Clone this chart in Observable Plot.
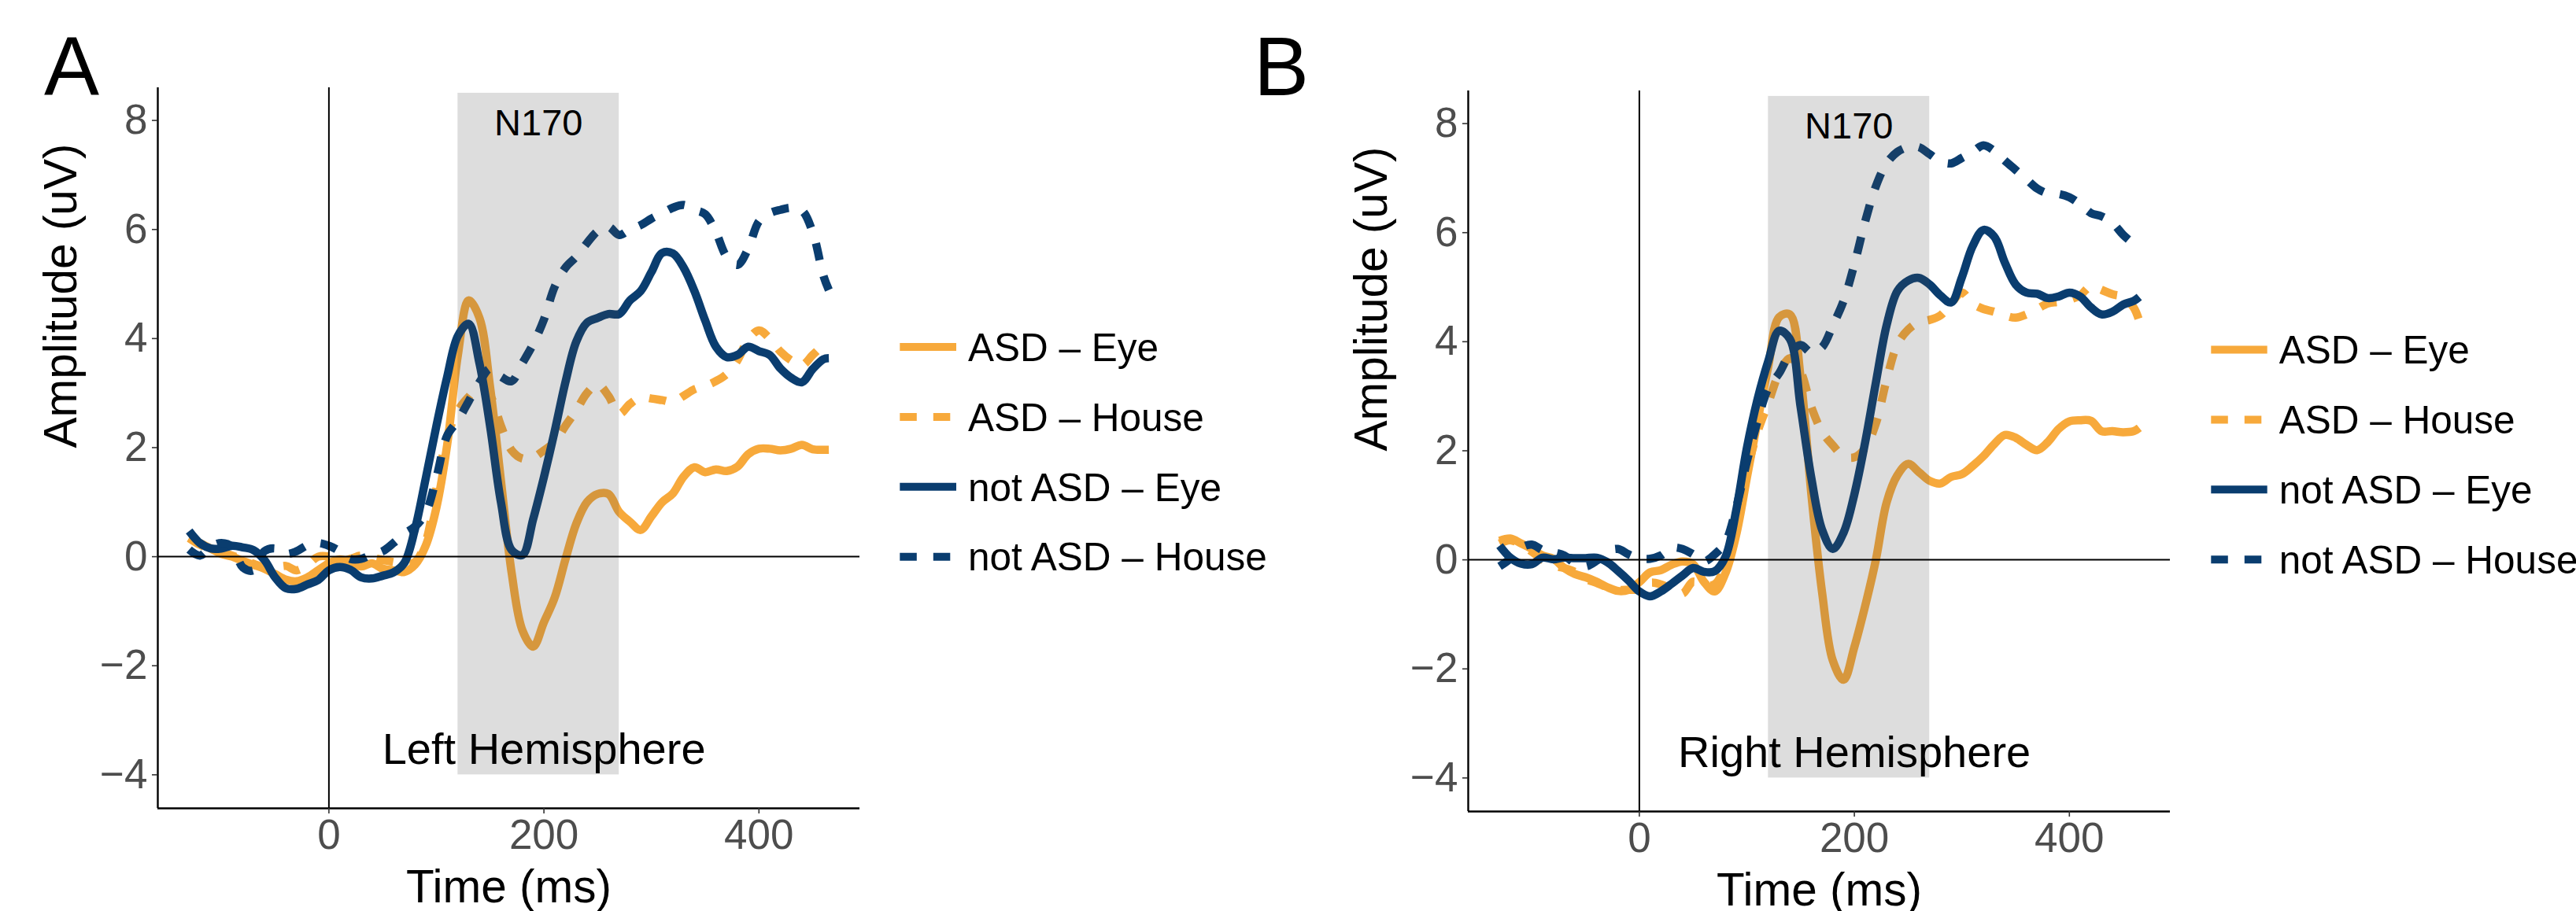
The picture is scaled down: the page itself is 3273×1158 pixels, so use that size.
<!DOCTYPE html>
<html>
<head>
<meta charset="utf-8">
<script src="https://cdn.jsdelivr.net/npm/d3@7"></script>
<script src="https://cdn.jsdelivr.net/npm/@observablehq/plot@0.6"></script>
<style>
html, body { margin: 0; padding: 0; background: #fff; }
#root { position: relative; width: 3273px; height: 1158px; overflow: hidden; background: #fff;
  font-family: 'Liberation Sans', Arial, Helvetica, sans-serif; }
.panel { position: absolute; width: 1100px; height: 1158px; }
</style>
</head>
<body>
<div id="root"></div>
<script>
// ---------------- data ----------------
const times = [-130, -120, -110, -100, -90, -80, -70, -60, -50, -40,
  -30, -20, -10, 0, 10, 20, 30, 40, 50, 60,
  70, 80, 90, 100, 110, 120, 130, 140, 150, 160,
  170, 180, 190, 200, 210, 220, 230, 240, 250, 260,
  270, 280, 290, 300, 310, 320, 330, 340, 350, 360,
  370, 380, 390, 400, 410, 420, 430, 440, 450, 460,
  465];

const seriesNames = ["ASD – Eye", "ASD – House", "not ASD – Eye", "not ASD – House"];

// Left hemisphere
const leftASDEye = [0.35, 0.25, 0.15, 0.05, 0.0, -0.08, -0.15, -0.22, -0.32, -0.42,
  -0.45, -0.38, -0.25, -0.12, -0.05, -0.1, -0.18, -0.12, -0.22, -0.25,
  -0.28, -0.15, 0.2, 0.9, 2.05, 3.7, 4.7, 4.38, 3.1, 1.4,
  -0.3, -1.35, -1.65, -1.2, -0.75, -0.05, 0.6, 1.0, 1.15, 1.15,
  0.82, 0.64, 0.49, 0.74, 1.0, 1.16, 1.47, 1.64, 1.55, 1.6,
  1.57, 1.65, 1.88, 1.98, 1.98, 1.95, 1.98, 2.05, 1.97, 1.96,
  1.96];
const leftASDHouse = [0.34, 0.22, 0.14, 0.08, 0.02, -0.05, -0.13, -0.2, -0.2, -0.17,
  -0.25, -0.15, 0.0, 0.0, -0.08, -0.04, 0.02, -0.02, -0.06, -0.1,
  -0.13, -0.1, 0.27, 1.25, 2.2, 2.68, 2.93, 3.12, 2.95, 2.4,
  1.95, 1.8, 1.82, 1.95, 2.1, 2.4, 2.68, 3.0, 3.16, 2.95,
  2.62, 2.8, 2.92, 2.9, 2.87, 2.84, 2.95, 3.07, 3.13, 3.22,
  3.35, 3.6, 3.98, 4.15, 4.0, 3.76, 3.6, 3.51, 3.7, 3.88,
  3.94];
const leftNotASDEye = [0.47, 0.25, 0.15, 0.15, 0.2, 0.17, 0.12, -0.06, -0.38, -0.58,
  -0.59, -0.51, -0.43, -0.25, -0.19, -0.24, -0.38, -0.4, -0.35, -0.29,
  -0.12, 0.5, 1.43, 2.4, 3.3, 4.05, 4.27, 3.55, 2.38, 1.0,
  0.12, 0.03, 0.69, 1.46, 2.3, 3.2, 3.94, 4.29, 4.38, 4.45,
  4.45, 4.7, 4.87, 5.22, 5.57, 5.56, 5.3, 4.87, 4.33, 3.85,
  3.66, 3.7, 3.85, 3.77, 3.7, 3.45, 3.28, 3.2, 3.44, 3.62,
  3.64];
const leftNotASDHouse = [0.13, 0.02, 0.18, 0.25, 0.18, -0.2, -0.25, 0.1, 0.15, 0.05,
  0.1, 0.21, 0.25, 0.2, 0.1, -0.04, -0.04, 0.04, 0.1, 0.25,
  0.42, 0.55, 0.8, 1.45, 2.22, 2.5, 2.85, 3.2, 3.45, 3.3,
  3.22, 3.55, 3.9, 4.35, 4.95, 5.3, 5.5, 5.75, 5.97, 6.05,
  5.9, 6.0, 6.08, 6.2, 6.3, 6.4, 6.45, 6.36, 6.28, 5.95,
  5.5, 5.35, 5.65, 6.15, 6.3, 6.36, 6.4, 6.35, 5.95, 5.15,
  4.89];

// Right hemisphere
const rightASDEye = [0.35, 0.39, 0.3, 0.2, 0.08, 0.02, -0.15, -0.26, -0.32, -0.4,
  -0.5, -0.57, -0.55, -0.41, -0.23, -0.19, -0.09, -0.03, -0.08, -0.4,
  -0.58, -0.25, 0.45, 1.5, 2.55, 3.55, 4.45, 4.5, 3.35, 1.2,
  -0.6, -1.85, -2.2, -1.6, -0.85, 0.0, 1.05, 1.55, 1.76, 1.61,
  1.45, 1.4, 1.52, 1.57, 1.72, 1.9, 2.12, 2.29, 2.24, 2.11,
  2.01, 2.16, 2.4, 2.54, 2.56, 2.55, 2.36, 2.36, 2.34, 2.36,
  2.42];
const rightASDHouse = [0.3, 0.36, 0.28, 0.15, 0.0, -0.11, -0.15, -0.22, -0.35, -0.42,
  -0.5, -0.55, -0.55, -0.54, -0.42, -0.45, -0.54, -0.62, -0.4, -0.46,
  -0.45, -0.1, 0.65, 1.62, 2.35, 2.88, 3.42, 3.7, 3.45, 2.8,
  2.35, 2.1, 1.9, 1.88, 2.05, 2.5, 3.3, 3.95, 4.22, 4.36,
  4.4, 4.48, 4.7, 4.9, 4.7, 4.6, 4.55, 4.48, 4.44, 4.5,
  4.6, 4.7, 4.73, 4.77, 4.85, 5.02, 4.95, 4.87, 4.82, 4.62,
  4.38];
const rightNotASDEye = [0.26, 0.04, -0.07, -0.08, 0.04, 0.01, 0.04, 0.03, 0.03, 0.04,
  -0.04, -0.2, -0.38, -0.58, -0.67, -0.58, -0.44, -0.29, -0.15, -0.22,
  -0.21, 0.05, 0.9, 2.05, 2.95, 3.65, 4.2, 4.05, 2.8, 1.5,
  0.55, 0.2, 0.5, 1.2, 2.15, 3.25, 4.3, 4.93, 5.12, 5.17,
  5.05, 4.85, 4.72, 5.18, 5.75, 6.05, 5.93, 5.45, 5.05, 4.9,
  4.88, 4.8, 4.83, 4.9, 4.83, 4.63, 4.5, 4.55, 4.68, 4.75,
  4.82];
const rightNotASDHouse = [-0.12, 0.02, 0.22, 0.28, 0.18, 0.14, 0.08, -0.06, -0.12, -0.02,
  0.15, 0.2, 0.1, 0.03, 0.02, 0.08, 0.22, 0.2, 0.1, -0.03,
  0.1, 0.32, 0.95, 1.8, 2.55, 3.15, 3.42, 3.78, 3.94, 3.8,
  3.9, 4.3, 4.75, 5.42, 6.2, 6.85, 7.27, 7.48, 7.57, 7.57,
  7.44, 7.31, 7.27, 7.37, 7.48, 7.6, 7.5, 7.32, 7.15, 6.98,
  6.81, 6.72, 6.71, 6.65, 6.52, 6.36, 6.3, 6.18, 5.96, 5.79,
  5.71];

const n170Window = [120, 270];
const n170Range = [-4, 8.5];
const yTicks = [-4, -2, 0, 2, 4, 6, 8];
const yTickLabels = ["−4", "−2", "0", "2", "4", "6", "8"];
const xTicks = [0, 200, 400];
const xTickLabels = ["0", "200", "400"];
const hemisphereLabels = ["Left Hemisphere", "Right Hemisphere"];
const panelLetters = ["A", "B"];
const windowLabel = "N170";
const xTitle = "Time (ms)";
const yTitle = "Amplitude (uV)";

// ---------------- styles ----------------
const FONT = "'Liberation Sans', Arial, Helvetica, sans-serif";
const ORANGE = "#F7A93B";
const BLUE = "#0A3D6F";
const seriesColors = [ORANGE, ORANGE, BLUE, BLUE];
const DASH = "21.5,21";
const seriesDash = [null, DASH, null, DASH];
const LW = 10.5;
const XDOM = [-159.15, 493.85];
const YDOM = [-4.615, 8.6];

function makePanel(seriesValues, hemiLabel) {
  const rows = [];
  seriesValues.forEach((vals, k) => vals.forEach((v, i) => rows.push({t: times[i], v, s: seriesNames[k]})));
  const lineMarks = seriesNames.map((name, k) => Plot.line(rows.filter(d => d.s === name), {
    x: "t", y: "v",
    stroke: seriesColors[k], strokeWidth: LW,
    strokeDasharray: seriesDash[k] || undefined,
    strokeLinecap: "butt", strokeLinejoin: "round",
    curve: "catmull-rom"
  }));
  return Plot.plot({
    width: 1100, height: 1158,
    marginLeft: 200, marginRight: 8, marginTop: 111, marginBottom: 131,
    x: {domain: XDOM},
    y: {domain: YDOM},
    style: {fontFamily: FONT, fontSize: "53px", background: "transparent", overflow: "visible", maxWidth: "none"},
    marks: [
      ...lineMarks,
      Plot.rect([{x1: n170Window[0], x2: n170Window[1], y1: n170Range[0], y2: n170Range[1]}],
        {x1: "x1", x2: "x2", y1: "y1", y2: "y2", fill: "#4a4a4a", fillOpacity: 0.19}),
      Plot.ruleY([0], {stroke: "black", strokeWidth: 2}),
      Plot.ruleX([0], {stroke: "black", strokeWidth: 2}),
      Plot.ruleX([XDOM[0]], {stroke: "black", strokeWidth: 2.4}),
      Plot.ruleY([YDOM[0]], {stroke: "black", strokeWidth: 2.4}),
      Plot.axisY({ticks: yTicks, tickFormat: d => yTickLabels[yTicks.indexOf(d)],
        tickSize: 7, tickPadding: 6, stroke: "#333333", strokeWidth: 1.6, fill: "#4D4D4D",
        fontSize: 53, label: null}),
      Plot.axisX({ticks: xTicks, tickFormat: d => xTickLabels[xTicks.indexOf(d)],
        tickSize: 7, tickPadding: 7, stroke: "#333333", strokeWidth: 1.6, fill: "#4D4D4D",
        fontSize: 53, label: null}),
      Plot.text([windowLabel], {x: (n170Window[0] + n170Window[1]) / 2, y: 7.73, lineAnchor: "bottom",
        fontSize: 47, fill: "black"}),
      Plot.text([hemiLabel], {x: 200, y: -3.807, lineAnchor: "bottom", fontSize: 56, fill: "black"}),
      Plot.text([xTitle], {frameAnchor: "bottom", dy: 119.5, lineAnchor: "bottom", fontSize: 58.5, fill: "black"}),
      Plot.text([yTitle], {frameAnchor: "left", dx: -104, rotate: -90, lineAnchor: "bottom", fontSize: 58.5, fill: "black"})
    ]
  });
}

const root = document.getElementById("root");
const panelPos = [{left: 0, top: 0}, {left: 1664.5, top: 3.5}];
const panelSeries = [
  [leftASDEye, leftASDHouse, leftNotASDEye, leftNotASDHouse],
  [rightASDEye, rightASDHouse, rightNotASDEye, rightNotASDHouse]
];
panelSeries.forEach((vals, p) => {
  const div = document.createElement("div");
  div.className = "panel";
  div.style.left = panelPos[p].left + "px";
  div.style.top = panelPos[p].top + "px";
  div.appendChild(makePanel(vals, hemisphereLabels[p]));
  root.appendChild(div);
});

// ---------------- overlay: panel letters & legends ----------------
const svg = d3.select(root).append("svg")
  .attr("width", 3273).attr("height", 1158)
  .style("position", "absolute").style("left", "0px").style("top", "0px")
  .style("font-family", FONT);

const letterPos = [{x: 56, y: 120}, {x: 1593, y: 121}];
panelLetters.forEach((L, p) => {
  svg.append("text").attr("x", letterPos[p].x).attr("y", letterPos[p].y)
    .attr("font-size", 105).attr("fill", "black").text(L);
});

const legendPos = [
  {k0: 1143.3, k1: 1215, tx: 1230, y0: 441},
  {k0: 2809.3, k1: 2880.7, tx: 2895.7, y0: 444.5}
];
const legendStep = 88.9;
legendPos.forEach(pos => {
  seriesNames.forEach((name, k) => {
    const cy = pos.y0 + k * legendStep;
    svg.append("line").attr("x1", pos.k0).attr("x2", pos.k1).attr("y1", cy).attr("y2", cy)
      .attr("stroke", seriesColors[k]).attr("stroke-width", 10)
      .attr("stroke-dasharray", seriesDash[k] || null).attr("stroke-linecap", "butt");
    svg.append("text").attr("x", pos.tx).attr("y", cy + 17.7)
      .attr("font-size", 49.5).attr("fill", "black").text(name);
  });
});
</script>
</body>
</html>
